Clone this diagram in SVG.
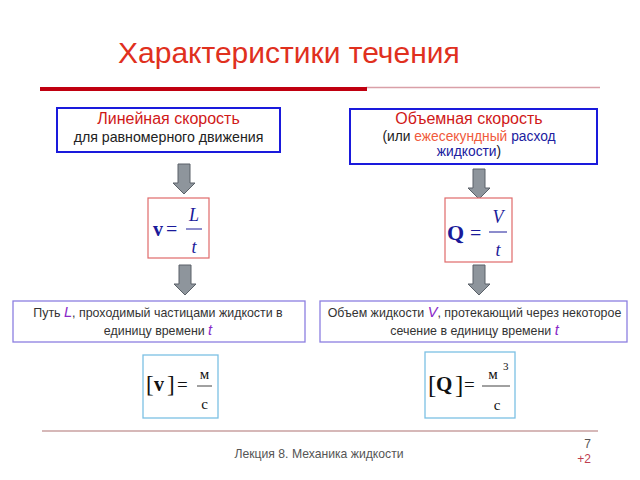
<svg xmlns="http://www.w3.org/2000/svg" width="640" height="480" viewBox="0 0 640 480">
<defs>
<style>
.s{font-family:"Liberation Sans",Arial,sans-serif}
.m{font-family:"Liberation Serif","Times New Roman",serif}
.box{fill:#fff;stroke:#1a1adc;stroke-width:2}
.fbox{fill:#fff;stroke:#e06a6a;stroke-width:1.2}
.tbox{fill:#fff;stroke:#8c7fe0;stroke-width:1.3}
.ubox{fill:#fff;stroke:#7cc0e4;stroke-width:1.3}
.arr{fill:#8e959c;stroke:#5a6168;stroke-width:1}
</style>
<g id="arrowShape"><path d="M-6 0 H6 V19 H11 L0 30 L-11 19 H-6 Z"/></g>
</defs>
<rect width="640" height="480" fill="#fff"/>
<g id="title">
<text x="118" y="63" class="s" font-size="30" fill="#e0301e">Характеристики течения</text>
<line x1="366" y1="87.5" x2="600" y2="87.5" stroke="#d9a0a8" stroke-width="1.5"/>
<line x1="40" y1="89" x2="367" y2="89" stroke="#c00010" stroke-width="4"/>
</g>
<g id="connectors">
<use href="#arrowShape" x="184" y="164" class="arr"/>
<use href="#arrowShape" x="479" y="169" class="arr"/>
<use href="#arrowShape" x="185" y="265" class="arr"/>
<use href="#arrowShape" x="479" y="265" class="arr"/>
</g>
<g id="linear">
<rect x="57" y="108" width="223" height="44" class="box"/>
<text x="168.5" y="124" class="s" font-size="16" fill="#d01818" text-anchor="middle">Линейная скорость</text>
<text x="168.5" y="142" class="s" font-size="14.2" fill="#222" text-anchor="middle">для равномерного движения</text>
</g>
<g id="volume">
<rect x="350" y="109" width="247" height="55" class="box"/>
<text x="469" y="124" class="s" font-size="16" fill="#d01818" text-anchor="middle">Объемная скорость</text>
<text x="469" y="140.5" class="s" font-size="13.8" fill="#222" text-anchor="middle">(или <tspan fill="#f05a3c">ежесекундный</tspan> <tspan fill="#2020a0">расход</tspan></text>
<text x="469" y="156" class="s" font-size="13.8" fill="#222" text-anchor="middle"><tspan fill="#2020a0">жидкости</tspan>)</text>
</g>
<g id="formulaV">
<rect x="148" y="198" width="61" height="60" class="fbox"/>
<text x="153" y="236" class="m" font-size="20" font-weight="bold" fill="#1a1a9a">v</text>
<text x="166" y="236" class="m" font-size="20" fill="#1a1a9a">=</text>
<line x1="186" y1="229" x2="202" y2="229" stroke="#1a1a9a" stroke-width="1"/>
<text x="194" y="221" class="m" font-size="18" font-style="italic" fill="#1a1a9a" text-anchor="middle">L</text>
<text x="194" y="253" class="m" font-size="18" font-style="italic" fill="#1a1a9a" text-anchor="middle">t</text>
</g>
<g id="formulaQ">
<rect x="445" y="198" width="67" height="64" class="fbox"/>
<text x="447" y="240" class="m" font-size="22" font-weight="bold" fill="#1a1a9a">Q</text>
<text x="470" y="240" class="m" font-size="20" fill="#1a1a9a">=</text>
<line x1="489" y1="232" x2="507" y2="232" stroke="#1a1a9a" stroke-width="1"/>
<text x="498" y="223" class="m" font-size="18" font-style="italic" fill="#1a1a9a" text-anchor="middle">V</text>
<text x="498" y="256" class="m" font-size="18" font-style="italic" fill="#1a1a9a" text-anchor="middle">t</text>
</g>
<g id="pathText">
<rect x="13" y="301" width="292" height="41" class="tbox"/>
<text x="158" y="317" class="s" font-size="12.4" fill="#333" text-anchor="middle">Путь <tspan fill="#8a28c8" font-style="italic" font-size="14.5">L</tspan>, проходимый частицами жидкости в</text>
<text x="158" y="335" class="s" font-size="12.4" fill="#333" text-anchor="middle">единицу времени <tspan fill="#8a28c8" font-style="italic" font-size="14.5">t</tspan></text>
</g>
<g id="volumeText">
<rect x="320" y="301" width="307" height="41" class="tbox"/>
<text x="474.5" y="317" class="s" font-size="12.4" fill="#333" text-anchor="middle">Объем жидкости <tspan fill="#8a28c8" font-style="italic" font-size="14.5">V</tspan>, протекающий через некоторое</text>
<text x="474.5" y="335" class="s" font-size="12.4" fill="#333" text-anchor="middle">сечение в единицу времени <tspan fill="#8a28c8" font-style="italic" font-size="14.5">t</tspan></text>
</g>
<g id="unitV">
<rect x="143" y="355" width="75" height="63" class="ubox"/>
<text x="146" y="392" class="m" font-size="23" fill="#111">[</text>
<text x="154" y="391" class="m" font-size="20" font-weight="bold" fill="#111">v</text>
<text x="167" y="392" class="m" font-size="23" fill="#111">]</text>
<text x="177" y="391" class="m" font-size="19" fill="#111">=</text>
<line x1="197" y1="386" x2="212" y2="386" stroke="#111" stroke-width="0.8"/>
<text x="204.5" y="379" class="m" font-size="15" fill="#111" text-anchor="middle">м</text>
<text x="204.5" y="409" class="m" font-size="15" fill="#111" text-anchor="middle">с</text>
</g>
<g id="unitQ">
<rect x="425" y="352" width="90" height="66" class="ubox"/>
<text x="428" y="393" class="m" font-size="25" fill="#111">[</text>
<text x="436" y="391" class="m" font-size="21" font-weight="bold" fill="#111">Q</text>
<text x="455" y="393" class="m" font-size="25" fill="#111">]</text>
<text x="464" y="391" class="m" font-size="19" fill="#111">=</text>
<line x1="482" y1="386" x2="510" y2="386" stroke="#111" stroke-width="0.8"/>
<text x="493" y="379" class="m" font-size="15" fill="#111" text-anchor="middle">м</text>
<text x="503" y="370" class="m" font-size="11" fill="#111">3</text>
<text x="497" y="410" class="m" font-size="15" fill="#111" text-anchor="middle">с</text>
</g>
<g id="footer">
<line x1="42" y1="431" x2="598" y2="431" stroke="#c9a0a0" stroke-width="1.5"/>
<text x="319" y="458" class="s" font-size="12.2" fill="#555" text-anchor="middle">Лекция 8. Механика жидкости</text>
<text x="591" y="448" class="s" font-size="12" fill="#555" text-anchor="end">7</text>
<text x="591" y="463" class="s" font-size="12" fill="#c04050" text-anchor="end">+2</text>
</g>
</svg>
